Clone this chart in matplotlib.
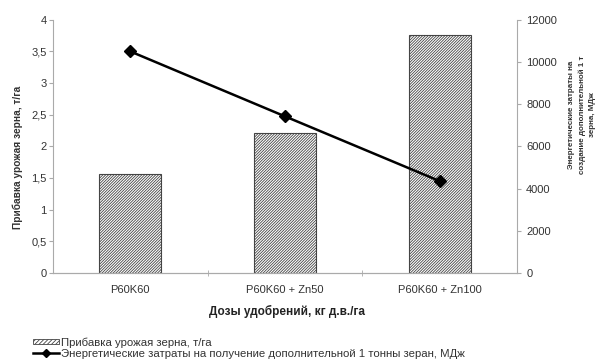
import matplotlib
matplotlib.use("Agg")
import matplotlib.pyplot as plt
import numpy as np
from matplotlib.patches import Patch
from matplotlib.lines import Line2D

plt.rcParams['font.family'] = ['Liberation Sans', 'DejaVu Sans']
plt.rcParams['hatch.linewidth'] = 0.6
plt.rcParams['hatch.color'] = '#333333'

categories = ["P60K60", "P60K60 + Zn50", "P60K60 + Zn100"]
yield_gain = [1.57, 2.21, 3.76]          # т/га
energy_cost = [10500, 7420, 4350]        # МДж
left_ticks = [0, 0.5, 1, 1.5, 2, 2.5, 3, 3.5, 4]
left_tick_labels = ["0", "0,5", "1", "1,5", "2", "2,5", "3", "3,5", "4"]
right_ticks = [0, 2000, 4000, 6000, 8000, 10000, 12000]

bar_label = "Прибавка урожая зерна, т/га"
line_label = "Энергетические затраты на получение дополнительной 1 тонны зеран, МДж"

HATCH = "/" * 12
TXT = "#333333"
GREY = "#aaaaaa"

fig = plt.figure(figsize=(6.02, 3.6), dpi=100)
ax = fig.add_axes([0.088, 0.242, 0.771, 0.703])
ax2 = ax.twinx()

x = np.arange(len(categories))
ax.bar(x, yield_gain, width=0.4, facecolor="white", edgecolor="#444444",
       hatch=HATCH, linewidth=0.8, zorder=2)
ax2.plot(x, energy_cost, color="black", linewidth=1.8, marker="D",
         markersize=6, zorder=3)

ax.set_xlim(-0.5, 2.5)
ax.set_ylim(0, 4)
ax2.set_ylim(0, 12000)
ax.set_yticks(left_ticks)
ax.set_yticklabels(left_tick_labels)
ax2.set_yticks(right_ticks)

ax.set_xticks(x)
ax.set_xticklabels(categories)
ax.set_xticks([0.5, 1.5], minor=True)
ax.tick_params(axis="x", which="major", length=0, pad=9)
ax.tick_params(axis="x", which="minor", length=4, direction="inout", color=GREY)

for a in (ax, ax2):
    a.spines["top"].set_visible(False)
    for s in ("left", "right", "bottom"):
        a.spines[s].set_color(GREY)
    a.tick_params(axis="y", labelcolor=TXT, labelsize=8, length=3, color=GREY)
ax.tick_params(axis="y", pad=1.5)
ax.tick_params(axis="x", labelsize=8, labelcolor=TXT)
ax2.spines["left"].set_visible(False)
ax.spines["right"].set_visible(False)

# axis titles
fig.text(18 / 602, 1 - 157 / 360, "Прибавка урожая зерна, т/га", rotation=90,
         ha="center", va="center", fontsize=7.3, fontweight="bold", color=TXT)
fig.text(582 / 602, 1 - 115 / 360,
         "Энергетические затраты на\nсоздание дополнительной 1 т\nзерна, МДж",
         rotation=90, ha="center", va="center", multialignment="center",
         fontsize=5.8, fontweight="bold", color=TXT, linespacing=1.6)
fig.text(287 / 602, 1 - 311 / 360, "Дозы удобрений, кг д.в./га",
         ha="center", va="center", fontsize=8.5, fontweight="bold", color="#222222")

handles = [
    Patch(facecolor="white", edgecolor="#444444", hatch="/" * 8, linewidth=0.6),
    Line2D([0], [0], color="black", linewidth=1.8, marker="D", markersize=4),
]
fig.legend(handles, [bar_label, line_label], loc="lower left",
           bbox_to_anchor=(32 / 602, 0.0), frameon=False, fontsize=8.2,
           handlelength=2.25, handleheight=0.35, handletextpad=0.17,
           labelspacing=0.1, borderpad=0, borderaxespad=0.1, labelcolor=TXT)

fig.savefig("out.png", dpi=100)
